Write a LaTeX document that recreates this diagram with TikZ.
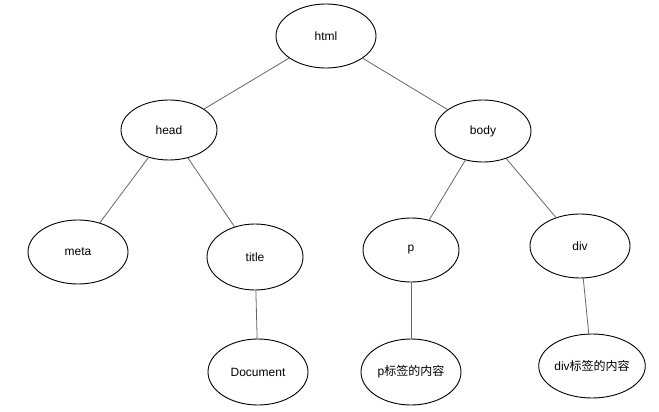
\documentclass[tikz,border=0pt]{standalone}
\usepackage{fontspec}
\setmainfont{Liberation Sans}
\newfontfamily\cjk{Noto Sans CJK SC}
\usetikzlibrary{shapes.geometric}
\begin{document}
\begin{tikzpicture}[x=1pt,y=-1pt,
  el/.style={ellipse,draw=black,line width=0.9pt,fill=white,inner sep=0pt,minimum width=100pt,minimum height=64pt,font=\fontsize{12}{14}\selectfont},
  edge/.style={draw=black!60,line width=0.8pt}]
\useasboundingbox (0,0) rectangle (659,412);
\node[el] (html) at (326,36) {html};
\node[el,minimum width=96pt,minimum height=60pt] (head) at (169,130) {head};
\node[el,minimum width=96pt,minimum height=62pt] (body) at (483,131) {body};
\node[el] (meta) at (78,252) {meta};
\node[el,minimum width=96pt,minimum height=66pt] (title) at (255,257) {title};
\node[el,minimum width=96pt] (p) at (411,250) {p};
\node[el] (div) at (580,246) {div};
\node[el,minimum height=66pt] (doc) at (258,372) {Document};
\node[el,minimum height=66pt] (pc) at (411,372) {p{\cjk 标签的内容}};
\node[el] (dc) at (592,366) {div{\cjk 标签的内容}};
\draw[edge] (html) -- (head);
\draw[edge] (html) -- (body);
\draw[edge] (head) -- (meta);
\draw[edge] (head) -- (title);
\draw[edge] (body) -- (p);
\draw[edge] (body) -- (div);
\draw[edge] (title) -- (doc);
\draw[edge] (p) -- (pc);
\draw[edge] (div) -- (dc);
\end{tikzpicture}
\end{document}
